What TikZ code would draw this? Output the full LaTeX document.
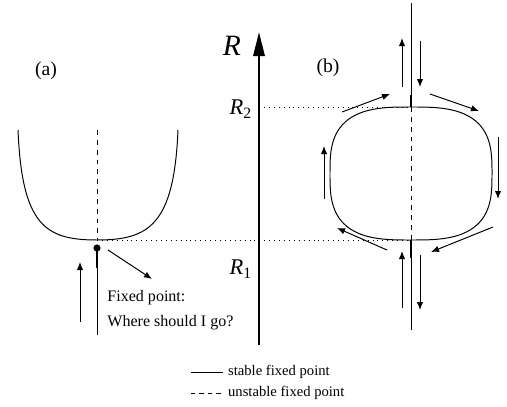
\documentclass[tikz,border=0pt]{standalone}
\usepackage{fontspec}
\setmainfont{Liberation Serif}
\usepackage{tikz}
\usetikzlibrary{
	arrows.meta,
	calc
}

\tikzset{
	flow/.style={-{Latex[length=2mm,width=1.6mm]}, line width=0.7pt},
	stablept/.style={line width=2pt},
	unstablept/.style={dash pattern=on 3.5pt off 3.5pt, line width=0.6pt},
	level/.style={dash pattern=on 0.7pt off 2.8pt, line width=0.6pt},
	labfont/.style={font=\fontsize{14}{14}\selectfont},
}

\begin{document}
\begin{tikzpicture}
		
		\useasboundingbox (0,0) rectangle (12.675,10.15);
		
		% R axis
		\draw[line width=1.8pt, -{Triangle[length=6mm,width=2.8mm]}]
		(6.475,1.525) -- (6.475,9.35);
		\node[font=\fontsize{21}{21}\selectfont\itshape] (rlab) at (5.8,9.0) {R};
		\node[anchor=east, font=\fontsize{16}{16}\selectfont] (rtwo) at (6.42,7.42)
		{\textit{R}\textsubscript{2}};
		\node[anchor=east, font=\fontsize{16}{16}\selectfont] (rone) at (6.42,3.42)
		{\textit{R}\textsubscript{1}};
		
		% Fixed points
		\coordinate (bottomA) at (2.425,4.15);
		\coordinate (topB) at (10.275,7.475);
		\coordinate (bottomB) at (10.275,4.15);
		
		% Levels
		\draw[level] (6.475,7.475) -- (topB);
		\draw[level] (bottomA) -- (bottomB);
		
		% (a): one fixed point
		\node[labfont] (alab) at (1.15,8.375) {(a)};
		\draw[line width=0.7pt]
		(0.45,6.9)
		.. controls (0.55,4.525) and (1.125,4.15) ..
		(bottomA)
		.. controls (3.725,4.15) and (4.35,4.525) ..
		(4.45,6.9);
		\draw[unstablept] (2.425,6.9) -- (bottomA);
		\fill (2.425,3.95) circle (0.09);
		\draw[stablept] (2.425,3.95) -- (2.425,3.45);
		\draw[line width=0.7pt] (2.425,3.45) -- (2.425,1.775);
		\draw[flow] (2.0,2.1) -- (2.0,3.6);
		\draw[flow] (2.7,3.9) -- (3.8,3.175);
		\node[anchor=west, align=left, inner sep=0pt,
		font=\fontsize{11.4}{17.8}\selectfont] (fixtxt) at (2.68,2.39)
		{Fixed point:\\Where should I go?};
		
		% (b): loop of fixed points
		\node[labfont] (blab) at (8.2,8.45) {(b)};
		\draw[line width=0.7pt]
		plot[smooth cycle, domain=1:357, samples=90, variable=\t]
		({10.275+2.025*sign(cos(\t))*pow(abs(cos(\t)),2/3)},
		{5.8125+1.6625*sign(sin(\t))*pow(abs(sin(\t)),2/3)});
		\draw[line width=0.7pt] (10.275,10.075) -- (10.275,7.775);
		\draw[stablept] (10.275,7.775) -- (topB);
		\draw[unstablept] (topB) -- (bottomB);
		\draw[stablept] (bottomB) -- (10.275,3.7);
		\draw[line width=0.7pt] (10.275,3.7) -- (10.275,1.9);
		
		\draw[flow] (10.05,7.975) -- (10.05,9.2);
		\draw[flow] (10.5,9.125) -- (10.5,7.975);
		\draw[flow] (8.55,7.35) -- (9.75,7.8);
		\draw[flow] (10.75,7.8) -- (11.975,7.375);
		\draw[flow] (8.1,5.175) -- (8.1,6.5);
		\draw[flow] (12.45,6.725) -- (12.45,5.175);
		\draw[flow] (9.675,3.9) -- (8.425,4.45);
		\draw[flow] (12.325,4.475) -- (10.775,3.85);
		\draw[flow] (10.05,2.45) -- (10.05,3.875);
		\draw[flow] (10.5,3.775) -- (10.5,2.4);
		
		% Legend
		\draw[line width=0.7pt] (4.775,0.85) -- (5.575,0.85)
		node[right, font=\fontsize{10.4}{10.4}\selectfont] (stab) {stable fixed point};
		\draw[line width=0.7pt, dash pattern=on 3pt off 3pt] (4.775,0.325) -- (5.575,0.325)
		node[right, font=\fontsize{10.4}{10.4}\selectfont] (unstab) {unstable fixed point};
		
	\end{tikzpicture}
\end{document}
